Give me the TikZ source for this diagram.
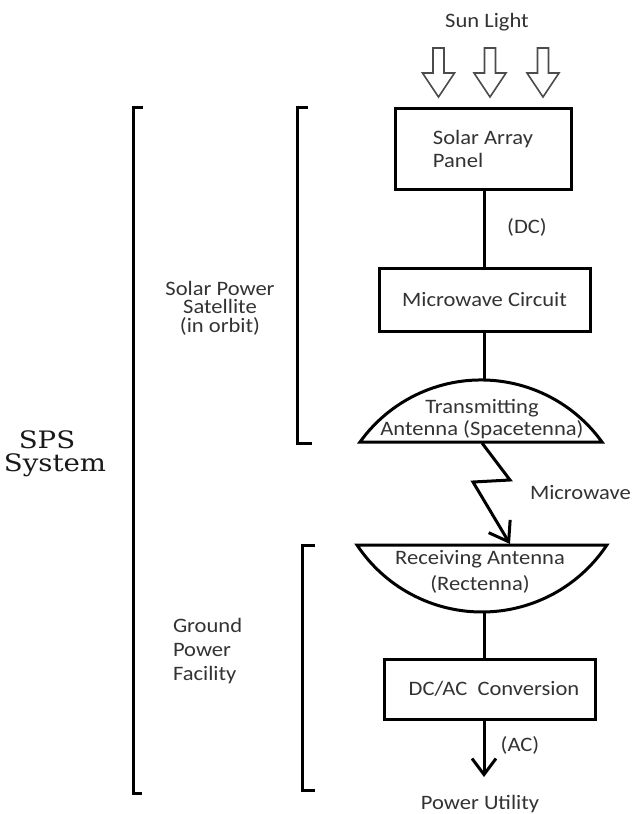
\documentclass[tikz,border=0pt]{standalone}
\usepackage{fontspec}
\setmainfont{Carlito}[FakeStretch=1.1]
\newfontfamily\spsfont{DejaVu Serif}[FakeStretch=1.15]
\usetikzlibrary{arrows.meta}
\begin{document}
\begin{tikzpicture}[x=1pt,y=-1pt,
  txt/.style={text=black!80, inner sep=0pt, outer sep=0pt, align=center, font=\fontsize{20.5}{23}\selectfont},
  box/.style={txt, draw=black, line width=3pt},
  wire/.style={line width=3pt},
  barb/.style={-{Straight Barb[length=18pt,width=25pt,line width=3pt]}},
  bracket/.style={line width=3pt},
  sunarrow/.style={draw=black!70, line width=1.6pt, fill=white},
  serif/.style={text=black!90, inner sep=0pt, outer sep=0pt, font=\spsfont\fontsize{24}{22}\selectfont}]
\path[use as bounding box, fill=white] (0,0) rectangle (633,814);

% sun light
\node[txt] (sun) at (487,22) {Sun Light};
\foreach \c in {438.5,490,543}
  \draw[sunarrow] (\c-5.5,48) -- (\c+5.5,48) -- (\c+5.5,73) -- (\c+16,73) -- (\c,97) -- (\c-16,73) -- (\c-5.5,73) -- cycle;

% boxes
\node[box, minimum width=176pt, minimum height=81pt, align=left] (sa) at (483,148.5) {Solar Array\\Panel};
\node[box, minimum width=211pt, minimum height=63pt] (mc) at (484.5,299.5) {Microwave Circuit};
\node[box, minimum width=211pt, minimum height=60pt] (dcac) at (489.5,689) {\hspace*{9pt}DC/AC\ \ Conversion};

% antennas
\draw[wire] (360,442) arc[start angle=215.7,end angle=324.3,radius=149] -- cycle;
\draw[wire] (357,545) arc[start angle=146.4,end angle=33.6,radius=150] -- cycle;
\node[txt, font=\fontsize{20.5}{22}\selectfont] (txlbl) at (482,419) {Transmitting\\Antenna (Spacetenna)};
\node[txt, font=\fontsize{20.5}{26}\selectfont] (rxlbl) at (480,572) {Receiving Antenna\\(Rectenna)};
\coordinate (txtop) at (484,380);
\coordinate (txbot) at (482,443);
\coordinate (rxtop) at (510,544);
\coordinate (rxbot) at (484,612);
\coordinate (pu) at (484,777);

% connectors
\draw[wire] (sa.south -| txtop) -- (mc.north -| txtop);
\draw[wire] (mc.south -| txtop) -- (txtop);
\draw[wire, barb] (txbot) -- (510,480) -- (473,482) -- (rxtop);
\draw[wire] (rxbot) -- (dcac.north -| rxbot);
\draw[wire, -{Straight Barb[length=16pt,width=24pt,line width=3pt]}] (dcac.south -| pu) -- (pu);

% connector labels
\node[txt] (dc) at (527,227) {(DC)};
\node[txt, anchor=west] (mw) at (530,493) {Microwave};
\node[txt] (ac) at (520,745) {(AC)};
\node[txt] (util) at (480,804) {Power Utility};

% brackets
\draw[bracket] (143,107) -- (133,107) -- (133,793) -- (142,793);
\draw[bracket] (308,107) -- (297,107) -- (297,443) -- (312,443);
\draw[bracket] (315,545) -- (302,545) -- (302,790) -- (315,790);

% group labels
\node[txt, font=\fontsize{20.5}{18.5}\selectfont] (sps) at (220,308) {Solar Power\\Satellite\\(in orbit)};
\node[txt, align=left, anchor=west, font=\fontsize{20.5}{24}\selectfont] (gpf) at (173,651) {Ground\\Power\\Facility};
\node[serif, anchor=base] (spsa) at (47,448) {SPS};
\node[serif, anchor=base] (spsb) at (55,471) {System};
\end{tikzpicture}
\end{document}
